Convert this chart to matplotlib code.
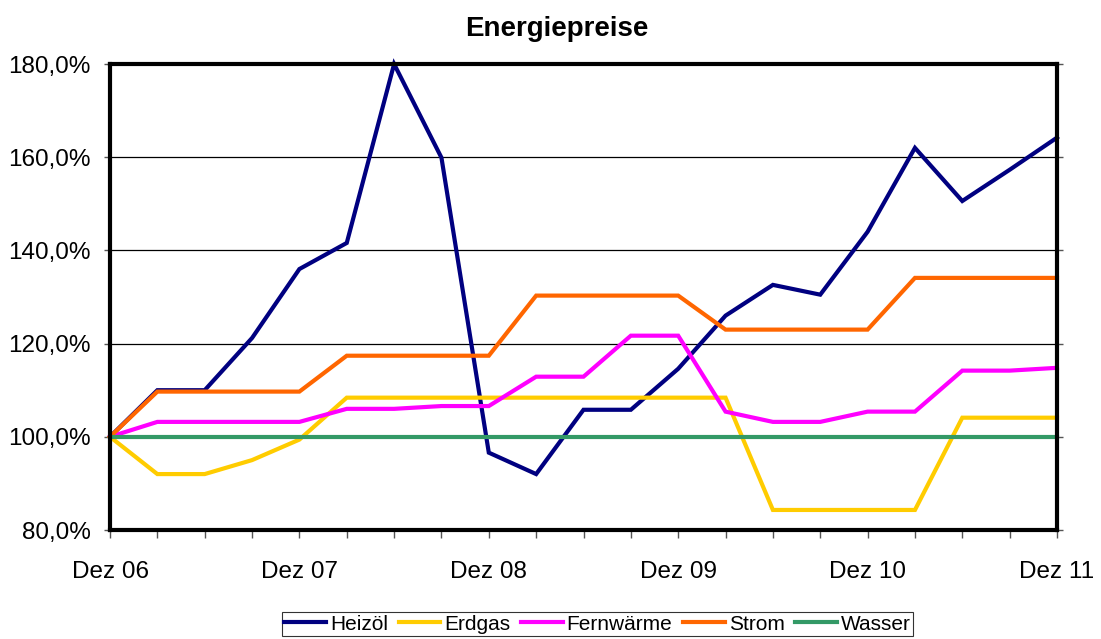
import matplotlib
matplotlib.use("Agg")
import matplotlib.pyplot as plt
import numpy as np
from matplotlib.ticker import FuncFormatter

plt.rcParams['font.family'] = ['Liberation Sans', 'DejaVu Sans']

# quarterly index values, Dez 06 = 100 %
heizoel = [100, 110, 110, 121.2, 136, 141.6, 180, 159.9, 96.6, 92, 105.8,
           105.8, 114.6, 126, 132.6, 130.5, 144, 162, 150.6, 157.3, 164.2]
erdgas = [100, 92, 92, 95, 99.4, 108.4, 108.4, 108.4, 108.4, 108.4, 108.4,
          108.4, 108.4, 108.4, 84.3, 84.3, 84.3, 84.3, 104.1, 104.1, 104.1]
fernwaerme = [100, 103.2, 103.2, 103.2, 103.2, 106, 106, 106.6, 106.6, 112.9,
              112.9, 121.7, 121.7, 105.4, 103.2, 103.2, 105.4, 105.4, 114.2,
              114.2, 114.8]
strom = [100, 109.7, 109.7, 109.7, 109.7, 117.4, 117.4, 117.4, 117.4, 130.3,
         130.3, 130.3, 130.3, 123, 123, 123, 123, 134.1, 134.1, 134.1, 134.1]
wasser = [100] * 21

series = [("Heizöl", heizoel, "#000080"),
          ("Erdgas", erdgas, "#FFCC00"),
          ("Fernwärme", fernwaerme, "#FF00FF"),
          ("Strom", strom, "#FF6600"),
          ("Wasser", wasser, "#339966")]

year_labels = ["Dez 06", "Dez 07", "Dez 08", "Dez 09", "Dez 10", "Dez 11"]

x = np.arange(len(heizoel))

fig = plt.figure(figsize=(11.01, 6.39), dpi=100)
ax = fig.add_axes([110 / 1101, 1 - 530 / 639, 947 / 1101, 466 / 639])

for name, vals, color in series:
    ax.plot(x, vals, color=color, lw=3, label=name, clip_on=False,
            solid_joinstyle='miter')

ax.set_xlim(0, 20)
ax.set_ylim(80, 180)
ax.set_yticks(np.arange(80, 181, 20))
ax.yaxis.set_major_formatter(
    FuncFormatter(lambda v, p: f"{v:.1f}".replace(".", ",") + "%"))
ax.set_xticks(x, minor=True)
ax.set_xticks(np.arange(0, 21, 4))
ax.set_xticklabels(year_labels)
ax.grid(axis='y', color='black', lw=0.9)
ax.set_axisbelow(True)

for s in ax.spines.values():
    s.set_linewidth(3)
    s.set_color('black')

ax.tick_params(axis='x', which='both', length=6, width=1, color='#555555',
               labelsize=17.5, pad=16)
ax.tick_params(axis='y', length=4, width=1, color='#555555', labelsize=17.5,
               right=True, pad=10)

ax.set_title("Energiepreise", fontsize=20, fontweight='bold', pad=20,
             x=0.472)

leg = fig.legend(loc='lower center', bbox_to_anchor=(0.5427, -0.012), ncol=5,
                 fontsize=15, frameon=True, fancybox=False, handlelength=2.0,
                 handletextpad=0.2, columnspacing=0.5, borderpad=0.12,
                 edgecolor='black')
leg.get_frame().set_linewidth(0.8)

fig.savefig("out.png", dpi=100)
